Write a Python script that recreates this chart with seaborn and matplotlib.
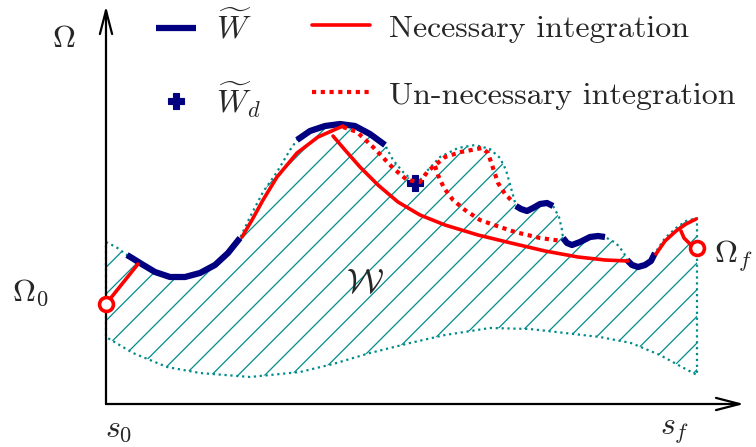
import matplotlib
matplotlib.use("Agg")
import matplotlib.pyplot as plt
from matplotlib.lines import Line2D
import seaborn as sns

# Render at a lower dpi so the hatch spacing is a bit tighter; every size
# given in points is multiplied by PT so the drawing keeps its pixel size.
DPI = 80
PT = 100 / DPI

sns.set_theme(style="white")
plt.rcParams["mathtext.fontset"] = "cm"
plt.rcParams["hatch.linewidth"] = 0.9 * PT
plt.rcParams["axes.unicode_minus"] = False

TEAL = "#008b8b"
NAVY = "#000080"
RED = "#ff0000"

# Upper bound of the admissible set W along the path (s, Omega)
upper_s = [0.0, 1.0, 2.1, 2.6, 3.4, 4.9, 6.4, 7.9, 9.4, 10.9, 12.2, 13.4,
           14.4, 15.7, 17.1, 18.4, 19.1, 20.4, 21.9, 23.4, 24.9, 26.4, 27.9,
           28.7, 29.7, 30.6, 31.2, 32.1, 33.4, 35.2, 36.9, 38.4, 39.4, 40.0,
           40.5, 41.0, 41.5, 42.1, 42.7, 43.4, 44.1, 44.7, 45.3, 45.6, 45.7,
           46.1, 46.6, 47.4, 48.4, 49.2, 49.9, 51.0, 51.8, 52.1, 52.6, 53.2,
           53.9, 54.5, 54.9, 55.9, 57.0, 58.0, 59.1]
upper_omega = [15.8, 15.3, 14.5, 14.2, 13.7, 12.8, 12.3, 12.3, 12.7, 13.5,
               14.7, 16.2, 18.3, 20.8, 22.8, 25.0, 26.0, 26.9, 27.4, 27.6,
               27.4, 26.6, 25.5, 24.0, 22.8, 22.0, 21.7, 22.9, 24.3, 25.2,
               25.5, 25.1, 24.2, 23.0, 21.2, 19.4, 19.1, 18.9, 19.2, 19.6,
               19.7, 19.4, 18.3, 17.0, 16.2, 15.7, 15.5, 15.8, 16.3, 16.4,
               16.3, 15.7, 14.7, 14.0, 13.5, 13.3, 13.5, 13.9, 14.7, 16.2,
               17.2, 17.9, 18.2]

# Lower bound of W
lower_s = [0.0, 2.7, 6.1, 9.4, 14.4, 19.4, 22.7, 26.4, 30.4, 33.9, 38.4,
           42.4, 45.9, 49.4, 52.5, 55.4, 57.4, 59.1]
lower_omega = [6.3, 4.7, 3.3, 2.7, 2.3, 2.8, 3.6, 4.7, 5.7, 6.5, 7.2, 7.1,
               6.7, 6.3, 5.7, 4.5, 3.4, 2.5]

# Pieces of the boundary W~ reached by the integration
wt_pieces = [
    ([2.1, 2.6, 3.4, 4.9, 6.4, 7.9, 9.4, 10.9, 12.2, 13.4],
     [14.5, 14.2, 13.7, 12.8, 12.3, 12.3, 12.7, 13.5, 14.7, 16.2]),
    ([19.1, 20.4, 21.9, 23.4, 24.9, 26.4, 27.9],
     [26.0, 26.9, 27.4, 27.6, 27.4, 26.6, 25.5]),
    ([41.0, 41.5, 42.1, 42.7, 43.4, 44.1, 44.7],
     [19.4, 19.1, 18.9, 19.2, 19.6, 19.7, 19.4]),
    ([45.7, 46.1, 46.6, 47.4, 48.4, 49.2, 49.9],
     [16.2, 15.7, 15.5, 15.8, 16.3, 16.4, 16.3]),
    ([52.1, 52.6, 53.2, 53.9, 54.5, 54.9],
     [14.0, 13.5, 13.3, 13.5, 13.9, 14.7]),
]

# Discontinuity point W~_d
wd_s = [30.9]
wd_omega = [21.7]

# Necessary integrations
necessary = [
    ([0.0, 3.2], [9.6, 13.6]),
    ([13.6, 14.6, 15.7, 17.1, 19.1, 21.2, 23.7],
     [16.3, 18.0, 20.0, 22.3, 24.7, 26.3, 27.4]),
    ([22.7, 23.9, 25.4, 27.2, 29.2, 31.4, 33.9, 37.2, 40.5, 43.9, 47.2,
      49.9, 52.2],
     [26.4, 25.0, 23.3, 21.5, 19.8, 18.5, 17.5, 16.5, 15.7, 14.9, 14.3,
      14.0, 13.9]),
    ([55.0, 55.9, 57.0, 58.0, 59.0], [14.6, 15.9, 16.9, 17.6, 18.1]),
    ([57.5, 57.8, 58.4, 59.1], [16.9, 16.2, 15.6, 15.2]),
]

# Un-necessary integrations
unnecessary = [
    ([23.7, 25.1, 26.7, 28.7, 30.1, 31.4, 32.2, 33.9, 35.5, 37.6, 38.2,
      38.6, 39.2, 39.9, 40.8],
     [27.3, 26.8, 25.3, 23.2, 22.0, 21.8, 22.9, 24.3, 24.8, 25.2, 24.7,
      23.5, 21.7, 20.6, 19.7]),
    ([32.9, 33.2, 33.8, 34.7, 35.9, 37.4, 39.1, 40.9, 43.4, 45.6],
     [23.4, 22.5, 21.2, 20.0, 19.0, 18.0, 17.4, 16.8, 16.2, 15.9]),
]

# Initial and final states
end_s = [0.0, 59.1]
end_omega = [9.6, 15.2]

fig = plt.figure(figsize=(756 / DPI, 447 / DPI), dpi=DPI)
ax = fig.add_axes([0, 0, 1, 1])
ax.set_xlim(-10.6, 65.0)
ax.set_ylim(-4.7, 40.0)
ax.axis("off")

# closed outline of W
outline_s = upper_s + [upper_s[-1]] + lower_s[::-1] + [upper_s[0]]
outline_omega = upper_omega + [lower_omega[-1]] + lower_omega[::-1] + [upper_omega[0]]

ax.fill(outline_s, outline_omega, facecolor="none", edgecolor=TEAL,
        linewidth=0, hatch="/", zorder=1)
sns.lineplot(x=outline_s, y=outline_omega, sort=False, estimator=None,
             color=TEAL, linewidth=1.6 * PT, linestyle=":", ax=ax, zorder=2)

for xs, ys in wt_pieces:
    sns.lineplot(x=xs, y=ys, sort=False, estimator=None, color=NAVY,
                 linewidth=4.5 * PT, solid_capstyle="butt",
                 solid_joinstyle="round", ax=ax, zorder=3)

ax.plot(wd_s, wd_omega, linestyle="none", marker="P", markersize=11 * PT,
        color=NAVY, zorder=4)

for xs, ys in necessary:
    sns.lineplot(x=xs, y=ys, sort=False, estimator=None, color=RED,
                 linewidth=2.6 * PT, solid_joinstyle="round", ax=ax, zorder=5)
for xs, ys in unnecessary:
    sns.lineplot(x=xs, y=ys, sort=False, estimator=None, color=RED,
                 linewidth=3.0 * PT, linestyle=(0, (1, 1.1)),
                 dash_capstyle="butt", ax=ax, zorder=5)

ax.plot(end_s, end_omega, linestyle="none", marker="o", markersize=10 * PT,
        markerfacecolor="white", markeredgecolor=RED,
        markeredgewidth=2.6 * PT, zorder=6)

# coordinate axes
axis_y = -0.4
arrow = dict(arrowstyle="->,head_length=0.85,head_width=0.22",
             color="black", lw=1.6 * PT, mutation_scale=20 * PT,
             shrinkA=0, shrinkB=0)
ax.annotate("", xy=(0, 39.4), xytext=(0, axis_y), arrowprops=arrow)
ax.annotate("", xy=(63.8, axis_y), xytext=(0, axis_y), arrowprops=arrow)

fs = 23 * PT
ax.text(-4.2, 36.2, r"$\Omega$", fontsize=fs, ha="center", va="center")
ax.text(-7.6, 10.8, r"$\Omega_0$", fontsize=fs, ha="center", va="center")
ax.text(62.7, 14.4, r"$\Omega_f$", fontsize=fs, ha="center", va="center")
ax.text(1.3, -2.8, r"$s_0$", fontsize=fs, ha="center", va="center")
ax.text(56.9, -3.0, r"$s_f$", fontsize=fs, ha="center", va="center")
ax.text(25.9, 11.8, r"$\mathcal{W}$", fontsize=25 * PT, ha="center", va="center")

# legends
h_w = Line2D([], [], color=NAVY, lw=4.5 * PT, solid_capstyle="butt")
h_wd = Line2D([], [], color=NAVY, marker="P", markersize=12 * PT,
              linestyle="none")
h_nec = Line2D([], [], color=RED, lw=2.6 * PT)
h_un = Line2D([], [], color=RED, lw=3.0 * PT, linestyle=(0, (1, 1.1)),
              dash_capstyle="butt")

leg1 = ax.legend([h_w, h_wd], [r"$\widetilde{W}$", r"$\widetilde{W}_d$"],
                 loc="upper left", bbox_to_anchor=(0.207, 0.976),
                 frameon=False, borderpad=0, borderaxespad=0,
                 handlelength=1.25, handletextpad=0.6, labelspacing=1.1,
                 prop=dict(family="cmr10", size=fs))
ax.add_artist(leg1)
ax.legend([h_nec, h_un], ["Necessary integration", "Un-necessary integration"],
          loc="upper left", bbox_to_anchor=(0.413, 0.968),
          frameon=False, borderpad=0, borderaxespad=0,
          handlelength=1.8, handletextpad=0.6, labelspacing=1.21,
          prop=dict(family="cmr10", size=fs))

fig.savefig("out.png", dpi=DPI)
